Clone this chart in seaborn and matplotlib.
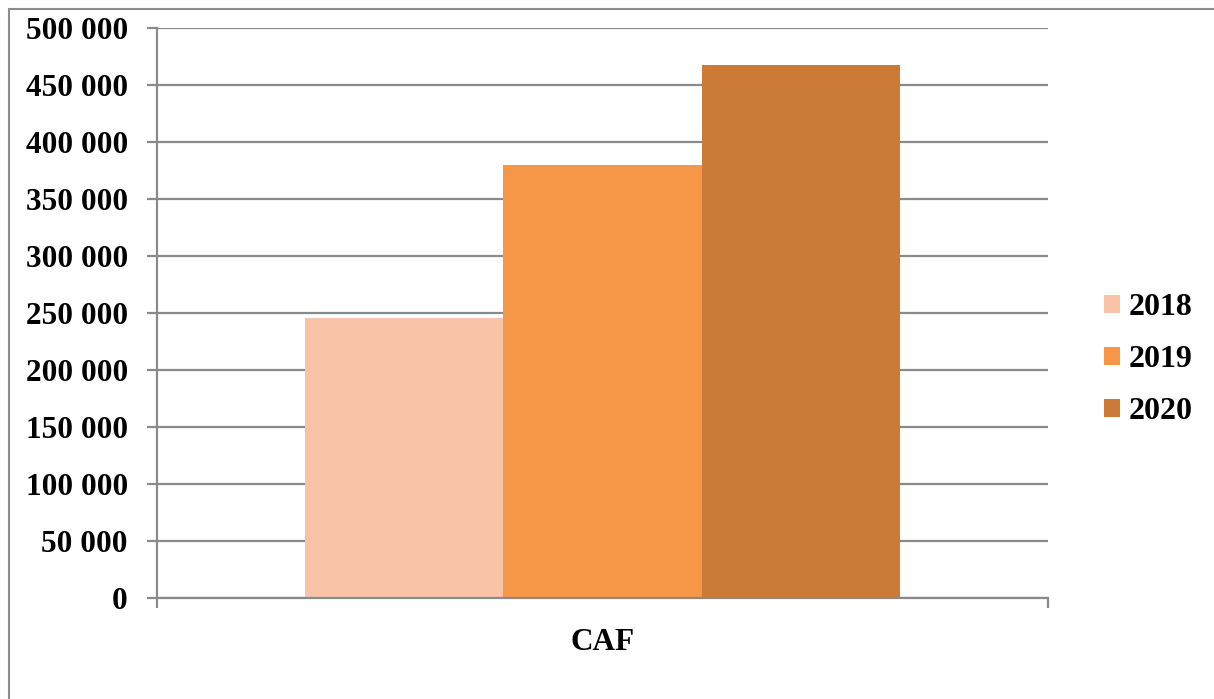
import matplotlib
matplotlib.use("Agg")
import matplotlib.pyplot as plt
import matplotlib.ticker as mticker
from matplotlib.lines import Line2D
import seaborn as sns
import pandas as pd

categories = ["CAF"]
years = ["2018", "2019", "2020"]
values = [245800, 380000, 467500]
colors = ["#F9C3A8", "#F69748", "#CC7A38"]
yticks = [0, 50000, 100000, 150000, 200000, 250000, 300000, 350000, 400000, 450000, 500000]

data = pd.DataFrame({"cat": categories * len(years), "year": years, "value": values})

sns.set_style("white")
plt.rcParams["font.family"] = ["Liberation Serif", "DejaVu Serif"]
plt.rcParams["font.weight"] = "bold"
plt.rcParams["text.color"] = "black"
plt.rcParams["xtick.color"] = "black"
plt.rcParams["ytick.color"] = "black"

fig = plt.figure(figsize=(12.14, 6.99), dpi=100)
ax = fig.add_axes([0.1293, 0.1445, 0.8633 - 0.1293, 0.9599 - 0.1445])

sns.barplot(data=data, x="cat", y="value", hue="year", palette=colors,
            width=0.668, saturation=1, linewidth=0, ax=ax, zorder=3)

ax.set_xlim(-0.5, 0.5)
ax.set_ylim(0, 500000)
ax.set_yticks(yticks)
ax.yaxis.set_major_formatter(mticker.FuncFormatter(lambda v, p: "{:,.0f}".format(v).replace(",", " ")))
ax.set_xlabel("")
ax.set_ylabel("")
ax.set_xticks([0])
ax.set_xticklabels(categories)
ax.set_xticks([-0.5, 0.5], minor=True)

grid_col = "#8A8A8A"
ax.yaxis.grid(True, color=grid_col, linewidth=1.6, zorder=0)
ax.set_axisbelow(True)
for s in ["top", "right"]:
    ax.spines[s].set_visible(False)
for s in ["left", "bottom"]:
    ax.spines[s].set_color(grid_col)
    ax.spines[s].set_linewidth(1.6)
    ax.spines[s].set_zorder(4)

ax.tick_params(axis="y", which="major", left=True, length=7, width=1.6, color=grid_col,
               labelcolor="black", labelsize=22.5, pad=14)
ax.tick_params(axis="x", which="major", bottom=False, labelcolor="black", labelsize=22.5, pad=18)
ax.tick_params(axis="x", which="minor", bottom=True, length=7, width=1.6, color=grid_col)
for t in ax.get_yticklabels() + ax.get_xticklabels():
    t.set_fontweight("bold")

handles, labels = ax.get_legend_handles_labels()
ax.legend(handles, labels, loc="center left", bbox_to_anchor=(0.886, 0.485),
          bbox_transform=fig.transFigure, frameon=False,
          prop={"size": 23, "weight": "bold"},
          handlelength=0.5, handleheight=0.5, handletextpad=0.25, labelspacing=0.72)

# outer frame (top and left edges only, as in the original)
fig.add_artist(Line2D([0.0075, 1.0], [0.987, 0.987], transform=fig.transFigure,
                      color="#8C8C8C", linewidth=1.5))
fig.add_artist(Line2D([0.0075, 0.0075], [0.0, 0.987], transform=fig.transFigure,
                      color="#8C8C8C", linewidth=1.5))

fig.savefig("out.png", dpi=100)
